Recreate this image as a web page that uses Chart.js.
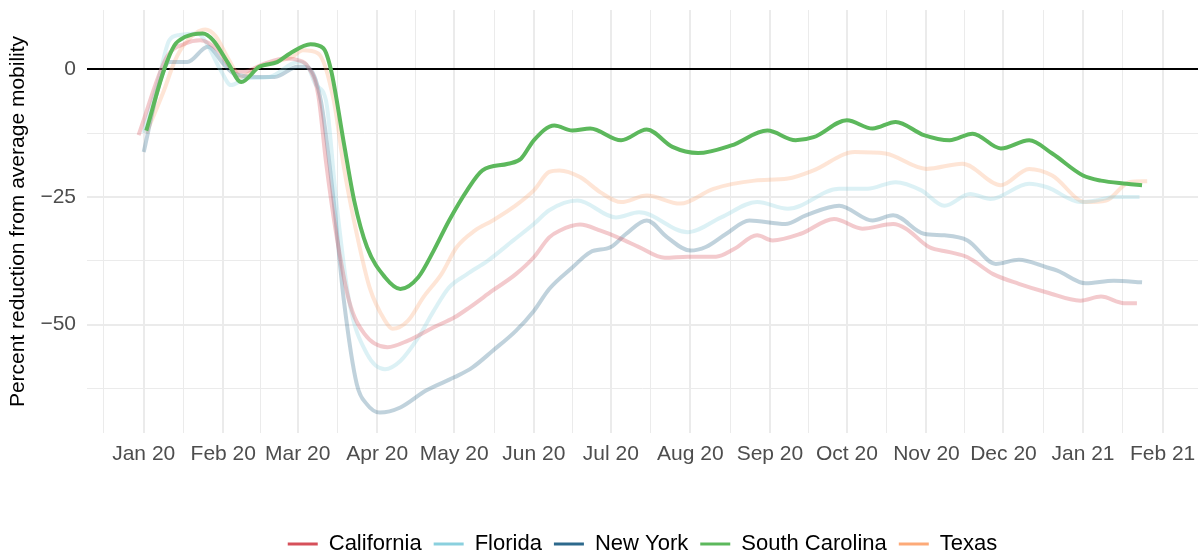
<!DOCTYPE html>
<html lang="en">
<head>
    <meta charset="UTF-8">
    <title>Mobility reduction by state</title>
    <script src="https://cdn.jsdelivr.net/npm/chart.js"></script>
    <style>
        body {
            margin: 0;
            background-color: #ffffff;
        }
    </style>
</head>
<body>
    <canvas id="mobilityChart" width="1198" height="556"></canvas>

    <script>
        // days counted from 1 Jan 2020
        const states = ['California', 'Florida', 'New York', 'South Carolina', 'Texas'];

        const caDays = [-2, 9, 16, 22, 29, 35, 39, 47, 55, 60, 64, 68, 71, 75, 80, 86, 95, 103, 113, 121, 127, 136, 145, 152, 158, 162, 170, 178, 186, 193, 203, 212, 223, 230, 239, 245, 256, 269, 280, 292, 297, 306, 314, 321, 331, 341, 352, 365, 373, 382, 387];
        const caVals = [-12.9, 2.4, 5.0, 5.7, 3.7, -0.2, -0.5, 1.1, 2.1, 1.8, 0.5, -5, -18, -32.2, -45.3, -51.8, -54.4, -53.1, -50.5, -48.6, -46.6, -43.3, -40.1, -36.8, -32.9, -31.6, -30.4, -31.6, -33.2, -34.8, -36.9, -36.7, -36.7, -35.2, -32.5, -33.5, -32.2, -29.3, -31.2, -30.3, -31.2, -34.8, -35.8, -36.8, -40.1, -42.0, -43.7, -45.3, -44.5, -45.8, -45.8];

        const flDays = [0, 6, 10, 14, 21, 24, 30, 34, 40, 49, 60, 64, 67, 71, 75, 80, 87, 94, 100, 107, 113, 119, 126, 134, 144, 152, 158, 169, 184, 193, 212, 225, 239, 251, 271, 282, 293, 303, 312, 322, 330, 345, 352, 365, 371, 378, 388];
        const flVals = [-12.5, -1.5, 5.7, 6.7, 7.0, 5.5, -0.2, -3.1, -1.8, -1.5, 1.4, 0.5, -3, -6.1, -25.7, -45.3, -55.7, -58.7, -57.1, -52.5, -47.3, -42.7, -40.1, -37.5, -33.5, -30.3, -27.6, -25.7, -29.0, -28.0, -31.9, -29.0, -26.0, -27.3, -23.4, -23.4, -22.1, -23.7, -26.7, -24.4, -25.4, -22.4, -23.1, -26.0, -25.7, -25.0, -25.0];

        const nyDays = [0, 6, 10, 17, 25, 31, 35, 44, 51, 60, 64, 69, 74, 78, 83, 87, 92, 100, 110, 121, 128, 136, 145, 152, 158, 167, 174, 182, 188, 196, 204, 213, 219, 227, 236, 250, 258, 271, 284, 292, 304, 312, 321, 332, 341, 352, 356, 367, 378, 389];
        const nyVals = [-16.2, -3, 1.4, 1.4, 4.4, 1.1, -0.8, -1.5, -1.5, 0.5, 0.3, -6.1, -25.7, -45.3, -61.6, -65.6, -67.2, -66.2, -62.9, -60.3, -58.4, -55.1, -51.2, -47.3, -43.0, -38.8, -35.8, -34.8, -32.2, -29.6, -32.9, -35.5, -34.8, -32.2, -29.6, -30.3, -28.6, -26.7, -29.6, -28.6, -32.2, -32.5, -33.5, -38.1, -37.3, -38.8, -39.4, -41.9, -41.4, -41.7];

        const scDays = [1, 8, 12, 16, 23, 27, 33, 38, 45, 52, 57, 65, 70, 73, 78, 82, 87, 94, 100, 107, 113, 119, 126, 132, 142, 147, 152, 160, 167, 174, 186, 196, 206, 216, 229, 243, 254, 261, 274, 284, 293, 304, 314, 323, 334, 345, 354, 366, 373, 383, 389];
        const scVals = [-12, 0, 4.7, 6.3, 7.0, 5.7, 1.1, -2.5, 0.5, 1.4, 3.1, 4.9, 4.1, -0.2, -14.5, -25.7, -34.8, -40.7, -43, -40.7, -35.5, -29.6, -23.7, -19.8, -18.5, -17.5, -13.9, -11.0, -12.0, -11.6, -13.9, -11.8, -15.2, -16.4, -14.9, -12.0, -13.9, -13.3, -10.0, -11.6, -10.3, -12.9, -13.9, -12.6, -15.5, -13.9, -16.5, -20.8, -21.8, -22.4, -22.7];

        const txDays = [1, 8, 12, 16, 24, 28, 33, 38, 45, 52, 58, 62, 68, 74, 78, 83, 88, 94, 97, 103, 109, 116, 122, 129, 136, 144, 152, 158, 162, 170, 178, 186, 196, 209, 222, 238, 251, 261, 277, 289, 305, 319, 334, 345, 354, 367, 375, 384, 391];
        const txVals = [-12.5, -4, 1.5, 5, 7.8, 6.5, 2, -1.5, 0.5, 1.5, 2.5, 3.7, 3.1, -6, -19.2, -32.2, -42.7, -49.2, -50.8, -49.2, -44.6, -40.1, -34.8, -31.6, -29.6, -27.0, -23.7, -20.1, -19.8, -21.1, -24.1, -26.0, -24.7, -26.3, -23.4, -21.8, -21.4, -19.8, -16.2, -16.5, -19.5, -18.5, -22.7, -19.5, -20.8, -26.0, -25.7, -22.1, -21.9];

        // x axis: month starts and their labels
        const monthDays = [0, 31, 60, 91, 121, 152, 182, 213, 244, 274, 305, 335, 366, 397];
        const monthLabels = ['Jan 20', 'Feb 20', 'Mar 20', 'Apr 20', 'May 20', 'Jun 20', 'Jul 20', 'Aug 20', 'Sep 20', 'Oct 20', 'Nov 20', 'Dec 20', 'Jan 21', 'Feb 21'];

        // y axis
        const yTickVals = [0, -25, -50];
        const yTickLabels = ['0', '\u221225', '\u221250'];

        const colors = ['#d6505a', '#8ad0de', '#2d698c', '#5cb85c', '#fdaa78'];
        const paleColors = ['rgba(214,80,90,0.3)', 'rgba(138,208,222,0.3)', 'rgba(45,105,140,0.3)', '#5cb85c', 'rgba(253,170,120,0.3)'];

        const seriesDays = [caDays, flDays, nyDays, scDays, txDays];
        const seriesVals = [caVals, flVals, nyVals, scVals, txVals];

        const xMin = -22.1, xMax = 410.8;

        // minor grid halfway between months (like ggplot)
        const minorDays = [];
        const withPrev = [-31].concat(monthDays);
        for (let i = 1; i < withPrev.length; i++) {
            const mid = (withPrev[i - 1] + withPrev[i]) / 2;
            if (mid > xMin && mid < xMax) minorDays.push(mid);
        }
        const xTicks = monthDays.concat(minorDays).sort((a, b) => a - b);
        const yTicks = [-62.5, -50, -37.5, -25, -12.5, 0];

        const fontFamily = '"Liberation Sans", Arial, sans-serif';

        const datasets = states.map((name, i) => ({
            label: name,
            data: seriesDays[i].map((d, j) => ({x: d, y: seriesVals[i][j]})),
            borderColor: paleColors[i],
            borderWidth: 4,
            pointRadius: 0,
            fill: false,
            cubicInterpolationMode: 'monotone',
            order: name === 'South Carolina' ? 0 : 1
        }));

        const ctx = document.getElementById('mobilityChart').getContext('2d');
        const chart = new Chart(ctx, {
            type: 'line',
            data: {datasets: datasets},
            options: {
                responsive: false,
                animation: false,
                layout: {padding: {left: 0, right: 0, top: 10, bottom: -9}},
                scales: {
                    x: {
                        type: 'linear',
                        min: xMin,
                        max: xMax,
                        z: -1,
                        border: {display: false},
                        afterBuildTicks: scale => { scale.ticks = xTicks.map(v => ({value: v})); },
                        afterFit: scale => {
                            scale.height = 88;
                            scale.paddingLeft = 0;
                            scale.paddingRight = 0;
                        },
                        grid: {
                            drawTicks: false,
                            color: '#ebebeb',
                            lineWidth: c => monthDays.includes(c.tick.value) ? 2 : 1
                        },
                        ticks: {
                            autoSkip: false,
                            maxRotation: 0,
                            padding: 9,
                            color: '#4d4d4d',
                            font: {family: fontFamily, size: 21},
                            callback: v => {
                                const k = monthDays.indexOf(v);
                                return k >= 0 ? monthLabels[k] : '';
                            }
                        }
                    },
                    y: {
                        min: -71.2,
                        max: 11.6,
                        border: {display: false},
                        afterBuildTicks: scale => { scale.ticks = yTicks.map(v => ({value: v})); },
                        afterFit: scale => {
                            scale.width = 87;
                            scale.paddingTop = 0;
                            scale.paddingBottom = 0;
                        },
                        grid: {
                            drawTicks: false,
                            color: c => c.tick.value === 0 ? '#000000' : '#ebebeb',
                            lineWidth: c => yTickVals.includes(c.tick.value) ? 2 : 1
                        },
                        ticks: {
                            padding: 11,
                            color: '#4d4d4d',
                            font: {family: fontFamily, size: 21},
                            callback: v => {
                                const k = yTickVals.indexOf(v);
                                return k >= 0 ? yTickLabels[k] : '';
                            }
                        },
                        title: {
                            display: true,
                            text: 'Percent reduction from average mobility',
                            color: '#000000',
                            padding: {top: 6, bottom: 0},
                            font: {family: fontFamily, size: 21}
                        }
                    }
                },
                plugins: {
                    legend: {
                        position: 'bottom',
                        fullSize: false,
                        labels: {
                            usePointStyle: true,
                            pointStyleWidth: 30,
                            padding: 12,
                            color: '#000000',
                            font: {family: fontFamily, size: 22},
                            generateLabels: () => states.map((name, i) => ({
                                text: name,
                                datasetIndex: i,
                                strokeStyle: colors[i],
                                fillStyle: colors[i],
                                lineWidth: 3,
                                pointStyle: 'line',
                                hidden: false
                            }))
                        }
                    },
                    tooltip: {enabled: false}
                }
            }
        });
    </script>
</body>
</html>
